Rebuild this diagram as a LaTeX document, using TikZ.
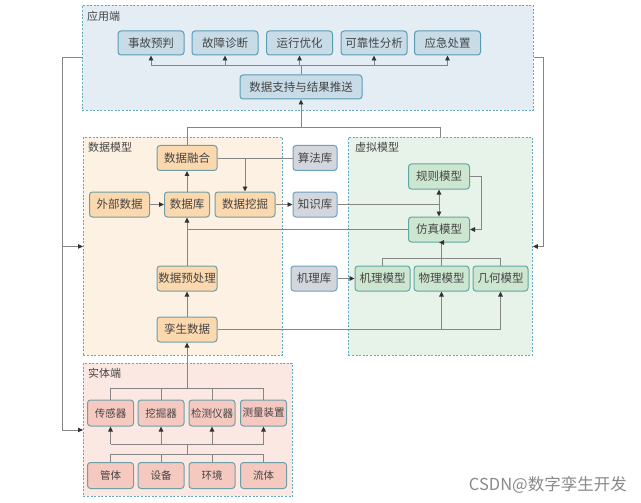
\documentclass[tikz,border=0pt]{standalone}
\usepackage{fontspec}
\newfontfamily\cjk{Noto Sans CJK SC}
\usetikzlibrary{arrows.meta}
\definecolor{txt}{HTML}{444444}
\definecolor{ln}{HTML}{858585}
\definecolor{tip}{HTML}{333333}
\definecolor{pdash}{HTML}{62A8C4}
\definecolor{appbg}{HTML}{E4EDF4}
\definecolor{appbox}{HTML}{C8DCE8}
\definecolor{appbd}{HTML}{5A9CB4}
\definecolor{databg}{HTML}{FDF1E3}
\definecolor{databox}{HTML}{FCD8AE}
\definecolor{databd}{HTML}{6E9FA6}
\definecolor{libbox}{HTML}{D3D6DC}
\definecolor{libbd}{HTML}{6AA0C0}
\definecolor{virtbg}{HTML}{E7F3E8}
\definecolor{virtbox}{HTML}{CDE6CF}
\definecolor{virtbd}{HTML}{5FA6A6}
\definecolor{physbg}{HTML}{FCE8E2}
\definecolor{physbox}{HTML}{F5C8C0}
\definecolor{physbd}{HTML}{6E9EA8}
\definecolor{wmark}{HTML}{8A8A8A}
\tikzset{
  panel/.style={draw=pdash, line width=0.9pt, dash pattern=on 2pt off 1.6pt, anchor=north west, inner sep=0pt},
  plabel/.style={anchor=north west, text=txt, font=\cjk\fontsize{11}{13}\selectfont, inner sep=0pt},
  boxbase/.style={draw, rounded corners=3pt, line width=1pt, text=txt, inner sep=0pt, minimum height=25pt, font=\cjk\fontsize{11.5}{13}\selectfont},
  appnode/.style={boxbase, fill=appbox, draw=appbd, minimum width=66pt, minimum height=24pt},
  datanode/.style={boxbase, fill=databox, draw=databd, minimum width=60pt},
  libnode/.style={boxbase, fill=libbox, draw=libbd, minimum width=44pt},
  virtnode/.style={boxbase, fill=virtbox, draw=virtbd, minimum width=55pt},
  physnode/.style={boxbase, fill=physbox, draw=physbd, minimum width=46pt, minimum height=26pt, font=\cjk\fontsize{10.5}{12}\selectfont},
  conn/.style={draw=ln, line width=0.9pt},
  arr/.style={conn, -{Triangle[length=5pt,width=4.5pt,color=tip]}},
}
\begin{document}
\begin{tikzpicture}[x=1pt,y=-1pt]
\useasboundingbox (0,0) rectangle (641,503);
\fill[white] (0,0) rectangle (641,503);
% panels
\node[panel, fill=appbg, minimum width=451pt, minimum height=105pt] (app) at (82,5) {};
\node[panel, fill=databg, minimum width=199pt, minimum height=218pt] (data) at (83,137) {};
\node[panel, fill=virtbg, minimum width=184pt, minimum height=218pt] (virt) at (348,137) {};
\node[panel, fill=physbg, minimum width=209pt, minimum height=133pt] (phys) at (83,363) {};
\node[plabel] (lapp) at (87,11) {应用端};
\node[plabel] (ldata) at (88,142) {数据模型};
\node[plabel] (lvirt) at (355,142) {虚拟模型};
\node[plabel] (lphys) at (88,368) {实体端};
% application
\node[appnode] (sgyp) at (151,43) {事故预判};
\node[appnode] (gzzd) at (225,43) {故障诊断};
\node[appnode] (yxyh) at (299.5,43) {运行优化};
\node[appnode] (kkx) at (374,43) {可靠性分析};
\node[appnode] (yjcz) at (447.5,43) {应急处置};
\node[appnode, minimum width=122pt] (sjzc) at (301,87) {数据支持与结果推送};
% data model
\node[datanode] (sjrh) at (187,158) {数据融合};
\node[datanode] (wbsj) at (119.5,204.5) {外部数据};
\node[datanode, minimum width=45pt] (sjk) at (187,204.5) {数据库};
\node[datanode] (sjwj) at (245,204.5) {数据挖掘};
\node[datanode] (sjycl) at (187,278.5) {数据预处理};
\node[datanode] (lssj) at (187,329.5) {孪生数据};
% libraries
\node[libnode] (sfk) at (315,158) {算法库};
\node[libnode] (zsk) at (315,204.5) {知识库};
\node[libnode, minimum width=46pt] (jlk) at (314,278.5) {机理库};
% virtual model
\node[virtnode, minimum width=61pt] (gzmx) at (439,176.5) {规则模型};
\node[virtnode, minimum width=61pt] (fzmx) at (439,229.5) {仿真模型};
\node[virtnode] (jlmx) at (382.5,278.5) {机理模型};
\node[virtnode] (wlmx) at (441.5,278.5) {物理模型};
\node[virtnode] (jhmx) at (500.5,278.5) {几何模型};
% physical
\node[physnode] (cgq) at (110.5,413) {传感器};
\node[physnode] (wjq) at (161,413) {挖掘器};
\node[physnode] (jcyq) at (212,413) {检测仪器};
\node[physnode] (clzz) at (263.5,413) {测量装置};
\node[physnode] (gt) at (110.5,475.5) {管体};
\node[physnode] (sb) at (161,475.5) {设备};
\node[physnode] (hj) at (212,475.5) {环境};
\node[physnode] (lt) at (263.5,475.5) {流体};
\node[anchor=east, text=wmark, inner sep=0pt, font=\cjk\fontsize{16.5}{18}\selectfont] (wm) at (627,485) {CSDN@数字孪生开发};
% --- connectors: application
\coordinate (tb) at (301,65);
\draw[conn] (sgyp.south |- tb) -- (yjcz.south |- tb);
\foreach \n in {sgyp,gzzd,yxyh,kkx,yjcz} \draw[arr] (\n.south |- tb) -- (\n.south);
\draw[conn] (sjzc.north) -- (sjzc.north |- tb);
% main bus
\coordinate (mb) at (0,127);
\coordinate (vt) at (440,127);
\draw[conn] (sjrh.north) -- (sjrh.north |- mb) -- (vt) -- (vt |- virt.north);
\draw[arr] (sjzc.south |- mb) -- (sjzc.south);
% feedback loops
\draw[conn] (app.west) -- ++(-20,0) coordinate (L1);
\draw[arr] (L1) |- (phys.west);
\draw[arr] (L1 |- data.west) -- (data.west);
\draw[arr] (app.east) -- ++(10,0) |- (virt.east);
% data model
\draw[arr] (wbsj) -- (sjk);
\draw[arr] (sjk) -- (sjrh);
\draw[conn] (sjrh.east) -- (sfk.west |- sjrh.east);
\draw[arr] (sjrh.east -| sjwj.north) -- (sjwj.north);
\draw[arr] (sjwj) -- (zsk);
\draw[conn] (zsk.east) -- (zsk.east -| gzmx.south) coordinate (kj);
\draw[arr] (kj) -- (gzmx.south);
\draw[arr] (kj) -- (fzmx.north);
\draw[arr] (gzmx.east) -- ++(11,0) |- (fzmx.east);
\draw[conn] (fzmx.west) -- (fzmx.west -| sjk.south);
\draw[arr] (sjycl) -- (sjk);
\draw[arr] (lssj) -- (sjycl);
\draw[conn] (lssj.east) -- (lssj.east -| jhmx.south);
\draw[arr] (lssj.east -| wlmx.south) -- (wlmx.south);
\draw[arr] (lssj.east -| jhmx.south) -- (jhmx.south);
% virtual
\draw[arr] (jlk) -- (jlmx);
\coordinate (vb) at (0,258);
\draw[conn] (jlmx.north) -- (jlmx.north |- vb) -- (jhmx.north |- vb) -- (jhmx.north);
\draw[arr] (wlmx.north) -- (wlmx.north |- fzmx.south) -- (fzmx.south);
% physical
\coordinate (pb1) at (0,388);
\coordinate (pb2) at (0,444);
\coordinate (pb3) at (0,454);
\draw[conn] (cgq.north |- pb1) -- (clzz.north |- pb1);
\foreach \n in {cgq,wjq,jcyq,clzz} \draw[conn] (\n.north) -- (\n.north |- pb1);
\draw[arr] (lssj.south |- pb1) -- (lssj.south);
\draw[conn] (gt.north |- pb3) -- (lt.north |- pb3);
\foreach \n in {gt,sb,hj,lt} \draw[conn] (\n.north) -- (\n.north |- pb3);
\draw[conn] (lssj.south |- pb3) -- (lssj.south |- pb2);
\draw[conn] (cgq.south |- pb2) -- (clzz.south |- pb2);
\foreach \n in {cgq,wjq,jcyq,clzz} \draw[arr] (\n.south |- pb2) -- (\n.south);
\end{tikzpicture}
\end{document}
